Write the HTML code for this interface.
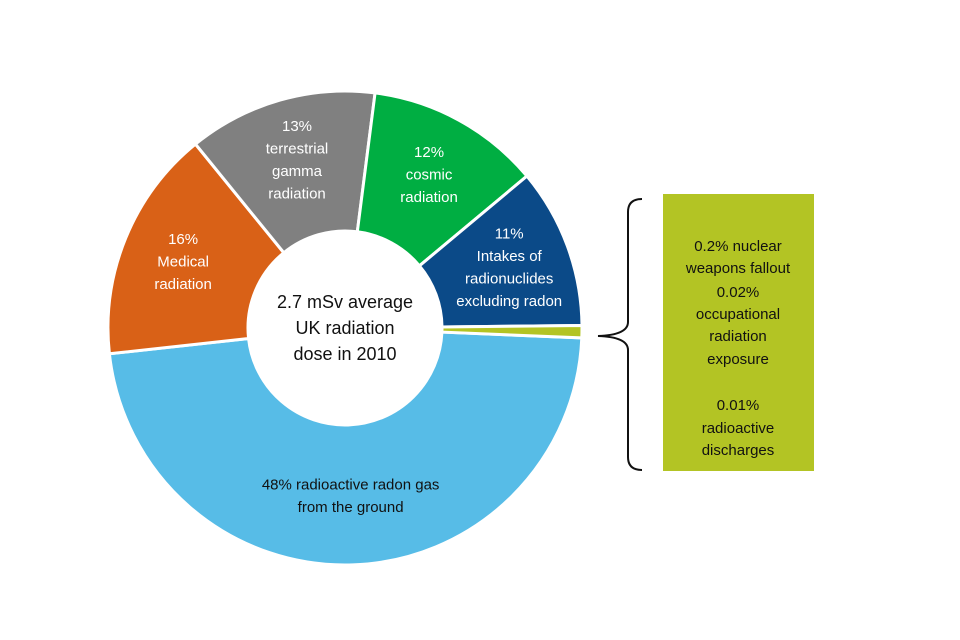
<!DOCTYPE html>
<html><head><meta charset="utf-8"><style>
html,body{margin:0;padding:0;background:#fff;}
#wrap{position:relative;width:960px;height:640px;overflow:hidden;font-family:"Liberation Sans",sans-serif;}
svg text{font-family:"Liberation Sans",sans-serif;}
</style></head><body>
<div id="wrap">
<svg id="chart" width="960" height="640">
  <g id="slices"></g>
  <g id="labels"></g>
  <text x="345" y="308" text-anchor="middle" font-size="18" fill="#111">2.7 mSv average</text>
  <text x="345" y="334" text-anchor="middle" font-size="18" fill="#111">UK radiation</text>
  <text x="345" y="360" text-anchor="middle" font-size="18" fill="#111">dose in 2010</text>
  <path d="M642,199 Q628,199 628,212 L628,322 Q628,335 598,336 Q628,337 628,350 L628,457 Q628,470 642,470" fill="none" stroke="#111" stroke-width="2"/>
  <rect x="663" y="194" width="151" height="277" fill="#B3C424"/>
  <g font-size="15" fill="#111" text-anchor="middle">
    <text x="738" y="251">0.2% nuclear</text>
    <text x="738" y="273">weapons fallout</text>
    <text x="738" y="297">0.02%</text>
    <text x="738" y="319">occupational</text>
    <text x="738" y="341">radiation</text>
    <text x="738" y="364">exposure</text>
    <text x="738" y="410">0.01%</text>
    <text x="738" y="433">radioactive</text>
    <text x="738" y="455">discharges</text>
  </g>
</svg>
</div>
<script>
const categories = ["Radon gas","Medical","Terrestrial gamma","Cosmic","Intakes of radionuclides","Other small sources"];
const values = [48, 16, 13, 12, 11, 0.23];
const colors = ["#57BCE7","#D96117","#808080","#00AE42","#0B4A88","#B3C424"];
const labelLines = [
  ["48% radioactive radon gas","from the ground"],
  ["16%","Medical","radiation"],
  ["13%","terrestrial","gamma","radiation"],
  ["12%","cosmic","radiation"],
  ["11%","Intakes of","radionuclides","excluding radon"],
  []
];
const labelColors = ["#111","#fff","#fff","#fff","#fff","#111"];

const cx = 345, cy = 328, R = 237, r = 97;
const startDeg = 2.4, minDeg = 3;
const NS = "http://www.w3.org/2000/svg";
const total = values.reduce((a,b)=>a+b,0);
let spans = values.map(v => v/total*360);
const extra = spans.reduce((s,a)=> s + Math.max(0, minDeg - a), 0);
const bigTotal = spans.filter(a=>a>=minDeg).reduce((a,b)=>a+b,0);
spans = spans.map(a => a < minDeg ? minDeg : a - extra * a / bigTotal);
function pt(deg, rad){ const t = deg*Math.PI/180; return [cx + rad*Math.cos(t), cy + rad*Math.sin(t)]; }
const gS = document.getElementById('slices');
const gL = document.getElementById('labels');
let a0 = startDeg;
spans.forEach((sp, i) => {
  const a1 = a0 + sp;
  const large = sp > 180 ? 1 : 0;
  const p0 = pt(a0,R), p1 = pt(a1,R), q1 = pt(a1,r), q0 = pt(a0,r);
  const d = `M${p0[0]},${p0[1]} A${R},${R} 0 ${large} 1 ${p1[0]},${p1[1]} L${q1[0]},${q1[1]} A${r},${r} 0 ${large} 0 ${q0[0]},${q0[1]} Z`;
  const path = document.createElementNS(NS,'path');
  path.setAttribute('d', d);
  path.setAttribute('fill', colors[i]);
  path.setAttribute('stroke', '#fff');
  path.setAttribute('stroke-width', '3');
  
  
  gS.appendChild(path);
  const lines = labelLines[i];
  if (lines.length) {
    const mid = (a0 + a1) / 2;
    const lr = i === 0 ? 168 : (R + r) / 2 + 8;
    const lp = pt(mid, lr);
    const lh = 22.5;
    const y0 = lp[1] - (lines.length - 1) * lh / 2 + 5;
    lines.forEach((ln, k) => {
      const t = document.createElementNS(NS,'text');
      t.setAttribute('x', lp[0]);
      t.setAttribute('y', y0 + k*lh);
      t.setAttribute('text-anchor', 'middle');
      t.setAttribute('font-size', '15');
      t.setAttribute('fill', labelColors[i]);
      
      
      t.textContent = ln;
      gL.appendChild(t);
    });
  }
  a0 = a1;
});
</script>
</body></html>
